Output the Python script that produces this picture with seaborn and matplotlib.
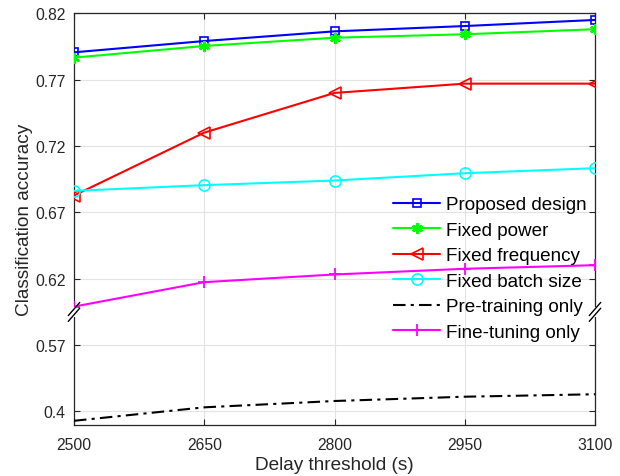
import numpy as np
import pandas as pd
import matplotlib
matplotlib.use("Agg")
import matplotlib.pyplot as plt
import seaborn as sns

delay = [2500, 2650, 2800, 2950, 3100]
proposed = [0.7906, 0.7991, 0.8064, 0.8104, 0.8150]
fixed_power = [0.7866, 0.7954, 0.8016, 0.8042, 0.8080]
fixed_freq = [0.6827, 0.7301, 0.7600, 0.7670, 0.7670]
fixed_batch = [0.6862, 0.6905, 0.6940, 0.6995, 0.7033]
pre_training = [0.376, 0.4105, 0.4267, 0.4377, 0.4440]
fine_tuning = [0.5990, 0.6174, 0.6232, 0.6275, 0.6302]
ytick_vals = [0.4, 0.57, 0.62, 0.67, 0.72, 0.77, 0.82]
ytick_labels = ["0.4", "0.57", "0.62", "0.67", "0.72", "0.77", "0.82"]

sns.set_style("ticks")
plt.rcParams['font.family'] = ['Liberation Sans', 'DejaVu Sans']

def fwd(v):
    v = np.asarray(v, dtype=float)
    return np.where(v >= 0.57, 2 + (v - 0.62) / 0.05, (v - 0.4) / 0.17)

def inv(i):
    i = np.asarray(i, dtype=float)
    return np.where(i >= 1, 0.62 + (i - 2) * 0.05, 0.4 + i * 0.17)

fig = plt.figure(figsize=(6.2, 4.77), dpi=100)
ax = fig.add_axes([74/620, 1-425.7/477, (595-74)/620, (425.7-14.3)/477])
ax.set_yscale('function', functions=(fwd, inv))

series = [
    ("Proposed design", proposed, dict(color='#0000ff', marker='s', markersize=6, markerfacecolor='none', markeredgewidth=1.2)),
    ("Fixed power", fixed_power, dict(color='#00ff00', marker=(6, 2, 0), markersize=8, markeredgewidth=1.6)),
    ("Fixed frequency", fixed_freq, dict(color='#ff0000', marker='<', markersize=9, markerfacecolor='none', markeredgewidth=1.2)),
    ("Fixed batch size", fixed_batch, dict(color='#00ffff', marker='o', markersize=8, markerfacecolor='none', markeredgewidth=1.2)),
    ("Pre-training only", pre_training, dict(color='black', linestyle=(0, (6, 2.5, 1.5, 2.5)))),
    ("Fine-tuning only", fine_tuning, dict(color='#ff00ff', marker='+', markersize=9, markeredgewidth=1.3)),
]

for name, vals, kw in series:
    df = pd.DataFrame({"delay": delay, "acc": vals})
    sns.lineplot(data=df, x="delay", y="acc", ax=ax, label=name, linewidth=1.5,
                 markeredgecolor=kw['color'], zorder=3, **kw)

ax.set_xlim(2500, 3100)
ax.set_ylim(inv(-0.2), 0.82)
ax.set_xticks(delay)
ax.set_xticklabels([str(d) for d in delay])
ax.set_yticks(ytick_vals)
ax.set_yticklabels(ytick_labels)
ax.minorticks_off()
ax.grid(True, color='#e3e3e3', linewidth=0.8)
ax.tick_params(direction='in', top=True, right=True, labelsize=11.3, colors='#262626', length=4, width=0.8)
ax.tick_params(axis='x', pad=9)
ax.tick_params(axis='y', pad=6)
for s in ax.spines.values():
    s.set_color('#262626')
    s.set_linewidth(0.9)
ax.set_xlabel("Delay threshold (s)", fontsize=13.7, color='#262626', labelpad=3)
ax.set_ylabel("Classification accuracy", fontsize=13.7, color='#262626', labelpad=1.5)

# axis break marks
yb = (1.5 + 0.2) / 6.2
for xa in (0.0, 1.0):
    ax.add_patch(plt.Rectangle((xa - 0.004, yb - 0.012), 0.008, 0.024, transform=ax.transAxes,
                               facecolor='white', edgecolor='none', clip_on=False, zorder=5))
    for off in (-0.007, 0.007):
        ax.plot([xa - 0.011, xa + 0.011], [yb + off - 0.016, yb + off + 0.016], transform=ax.transAxes,
                color='black', linewidth=1.0, clip_on=False, zorder=6)

leg = ax.legend(loc='upper left', bbox_to_anchor=(393/620, 1-197/477), bbox_transform=fig.transFigure,
                frameon=False, fontsize=13.6, handlelength=2.5, handletextpad=0.3,
                labelspacing=0.44, borderpad=0, borderaxespad=0)
for t in leg.get_texts():
    t.set_color('black')

fig.savefig("out.png", dpi=100)
